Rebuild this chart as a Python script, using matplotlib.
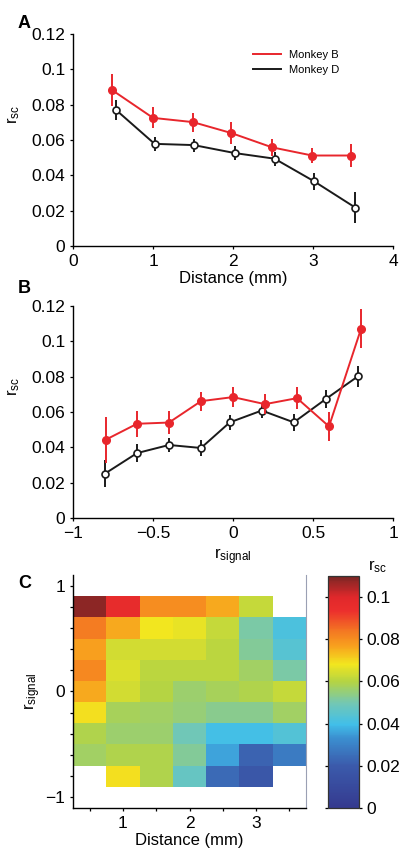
import numpy as np
import matplotlib
matplotlib.use("Agg")
import matplotlib.pyplot as plt
from matplotlib.lines import Line2D
from matplotlib.colors import LinearSegmentedColormap

plt.rcParams['font.family'] = ['Liberation Sans', 'DejaVu Sans']
plt.rcParams['mathtext.default'] = 'regular'
plt.rcParams['axes.linewidth'] = 1.0

RED = '#e8262c'
BLACK = '#1a1a1a'

# panel A: r_sc vs distance
dist_b = [0.49, 1.0, 1.5, 1.98, 2.49, 2.99, 3.48]
rsc_b = [0.0882, 0.0725, 0.0701, 0.0639, 0.0558, 0.0512, 0.0512]
err_b = [0.009, 0.006, 0.0054, 0.006, 0.005, 0.0045, 0.0065]
dist_d = [0.54, 1.02, 1.51, 2.02, 2.52, 3.01, 3.53]
rsc_d = [0.0769, 0.0578, 0.0571, 0.0526, 0.0494, 0.0367, 0.0217]
err_d = [0.0056, 0.004, 0.0037, 0.004, 0.004, 0.0048, 0.0087]

# panel B: r_sc vs r_signal
sig_b = [-0.795, -0.6, -0.4, -0.2, 0.0, 0.2, 0.4, 0.6, 0.8]
rsc_sig_b = [0.0443, 0.0533, 0.054, 0.0661, 0.0684, 0.0644, 0.0678, 0.0518, 0.107]
err_sig_b = [0.013, 0.0072, 0.0066, 0.0053, 0.0055, 0.0057, 0.0063, 0.0084, 0.011]
sig_d = [-0.8, -0.6, -0.4, -0.2, -0.02, 0.18, 0.38, 0.58, 0.78]
rsc_sig_d = [0.0251, 0.0367, 0.0413, 0.0396, 0.0541, 0.0608, 0.0541, 0.0673, 0.0801]
err_sig_d = [0.0077, 0.0052, 0.0041, 0.0043, 0.0042, 0.004, 0.0047, 0.005, 0.006]

# panel C: r_sc map, rows = r_signal (bottom to top), cols = distance
map_dist = [0.5, 1.0, 1.5, 2.0, 2.5, 3.0, 3.5]
map_sig = [-0.8, -0.6, -0.4, -0.2, 0.0, 0.2, 0.4, 0.6, 0.8]
nan = np.nan
rsc_map = [
    [nan,   0.069, 0.059, 0.047, 0.024, 0.018, nan],
    [0.057, 0.059, 0.059, 0.052, 0.036, 0.022, 0.028],
    [0.059, 0.056, 0.056, 0.049, 0.040, 0.040, 0.043],
    [0.069, 0.058, 0.057, 0.055, 0.053, 0.053, 0.057],
    [0.076, 0.064, 0.060, 0.056, 0.058, 0.059, 0.062],
    [0.081, 0.065, 0.061, 0.061, 0.061, 0.057, 0.051],
    [0.077, 0.064, 0.064, 0.064, 0.061, 0.052, 0.044],
    [0.083, 0.076, 0.068, 0.067, 0.062, 0.051, 0.042],
    [0.108, 0.096, 0.080, 0.080, 0.076, 0.062, nan],
]

# colour scale as printed in the figure (a softened jet)
cmap = LinearSegmentedColormap.from_list('printjet', [
    (0.00, '#353a8f'), (0.18, '#3b5aab'), (0.30, '#3b8fd0'),
    (0.36, '#41bfe9'), (0.45, '#72c7b5'), (0.545, '#b5d443'),
    (0.62, '#f2e61f'), (0.70, '#f8a01e'), (0.76, '#f47a22'),
    (0.85, '#ec2f2d'), (0.91, '#e0282b'), (1.00, '#7a2624')])

fig = plt.figure(figsize=(4.0, 8.55), dpi=100)


def style_axes(ax):
    ax.spines['top'].set_visible(False)
    ax.spines['right'].set_visible(False)
    ax.tick_params(direction='out', length=2.5, width=0.9, labelsize=12.5, pad=3)


def num(v):
    s = ('%g' % v)
    return s.replace('-', '\u2212')


# ---- A ----
axA = fig.add_axes([0.1825, 0.7123, 0.8, 0.248])
axA.errorbar(dist_b, rsc_b, yerr=err_b, color=RED, lw=1.4, elinewidth=1.4,
             marker='o', ms=5.5, mfc=RED, mec=RED, capsize=0, zorder=3)
axA.errorbar(dist_d, rsc_d, yerr=err_d, color=BLACK, lw=1.4, elinewidth=1.4,
             marker='o', ms=5, mfc='white', mec=BLACK, mew=1.2, capsize=0, zorder=2)
axA.set_xlim(0, 4)
axA.set_ylim(0, 0.12)
axA.set_xticks([0, 1, 2, 3, 4])
axA.set_yticks([0, 0.02, 0.04, 0.06, 0.08, 0.1, 0.12])
axA.set_xticklabels([num(v) for v in [0, 1, 2, 3, 4]])
axA.set_yticklabels([num(v) for v in [0, 0.02, 0.04, 0.06, 0.08, 0.1, 0.12]])
style_axes(axA)
axA.set_xlabel('Distance (mm)', fontsize=12, labelpad=2)
axA.set_ylabel('$r_{sc}$', fontsize=12)
axA.yaxis.set_label_coords(-0.16, 0.62)
handles = [Line2D([], [], color=RED, lw=1.4), Line2D([], [], color=BLACK, lw=1.4)]
axA.legend(handles, ['Monkey B', 'Monkey D'], loc='upper left',
           bbox_to_anchor=(0.53, 0.97), frameon=False, fontsize=8,
           handlelength=2.6, handletextpad=0.7, labelspacing=0.45)
fig.text(0.045, 0.983, 'A', fontsize=13, fontweight='bold', va='top')

# ---- B ----
axB = fig.add_axes([0.1825, 0.3942, 0.8, 0.248])
axB.errorbar(sig_b, rsc_sig_b, yerr=err_sig_b, color=RED, lw=1.4, elinewidth=1.4,
             marker='o', ms=5.5, mfc=RED, mec=RED, capsize=0, zorder=3)
axB.errorbar(sig_d, rsc_sig_d, yerr=err_sig_d, color=BLACK, lw=1.4, elinewidth=1.4,
             marker='o', ms=5, mfc='white', mec=BLACK, mew=1.2, capsize=0, zorder=2)
axB.set_xlim(-1, 1)
axB.set_ylim(0, 0.12)
xtB = [-1, -0.5, 0, 0.5, 1]
axB.set_xticks(xtB)
axB.set_xticklabels([num(v) for v in xtB])
axB.set_yticks([0, 0.02, 0.04, 0.06, 0.08, 0.1, 0.12])
axB.set_yticklabels([num(v) for v in [0, 0.02, 0.04, 0.06, 0.08, 0.1, 0.12]])
style_axes(axB)
axB.set_xlabel('$r_{signal}$', fontsize=12, labelpad=4)
axB.set_ylabel('$r_{sc}$', fontsize=12)
axB.yaxis.set_label_coords(-0.16, 0.62)
fig.text(0.045, 0.672, 'B', fontsize=13, fontweight='bold', va='top')

# ---- C ----
axC = fig.add_axes([0.1825, 0.055, 0.5825, 0.2725])
xe = np.concatenate([[map_dist[0] - 0.25], np.array(map_dist) + 0.25])
ye = np.concatenate([[map_sig[0] - 0.1], np.array(map_sig) + 0.1])
data = np.ma.masked_invalid(np.array(rsc_map))
mesh = axC.pcolormesh(xe, ye, data, cmap=cmap, vmin=0, vmax=0.11)
axC.set_xlim(0.25, 3.75)
axC.set_ylim(-1.1, 1.1)
axC.set_xticks([1, 2, 3])
axC.set_xticks([0.5, 1.5, 2.5, 3.5], minor=True)
axC.set_yticks([-1, 0, 1])
axC.set_yticklabels([num(v) for v in [-1, 0, 1]])
axC.set_yticks([-0.8, -0.6, -0.4, -0.2, 0.2, 0.4, 0.6, 0.8], minor=True)
axC.spines['top'].set_visible(False)
axC.spines['right'].set_color('#9aa0b4')
axC.spines['right'].set_linewidth(0.8)
axC.tick_params(which='both', direction='out', length=2.5, width=0.9, labelsize=12.5, pad=3)
axC.set_xlabel('Distance (mm)', fontsize=12, labelpad=2)
axC.set_ylabel('$r_{signal}$', fontsize=12)
axC.yaxis.set_label_coords(-0.13, 0.5)
fig.text(0.045, 0.327, 'C', fontsize=13, fontweight='bold', va='top')

cax = fig.add_axes([0.82, 0.055, 0.0775, 0.2713])
cb = fig.colorbar(mesh, cax=cax)
cb.set_ticks([0, 0.02, 0.04, 0.06, 0.08, 0.1])
cb.set_ticklabels([num(v) for v in [0, 0.02, 0.04, 0.06, 0.08, 0.1]])
cb.outline.set_edgecolor('#333333')
cb.outline.set_linewidth(0.9)
cax.tick_params(direction='out', length=2.5, width=0.9, labelsize=12.5, left=True, right=True, pad=3)
fig.text(0.943, 0.337, '$r_{sc}$', fontsize=12, ha='center', va='center')

fig.savefig('out.png', dpi=100)
